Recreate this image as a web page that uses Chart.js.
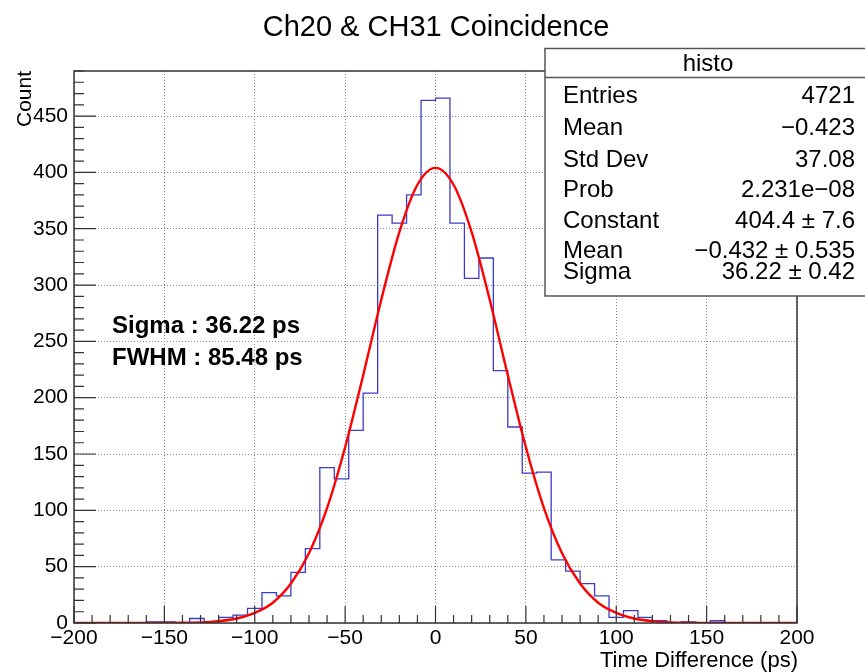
<!DOCTYPE html>
<html><head><meta charset="utf-8">
<script src="https://cdn.jsdelivr.net/npm/chart.js@4.4.0/dist/chart.umd.min.js"></script>
<style>html,body{margin:0;padding:0;background:#fff;overflow:hidden}canvas{display:block}</style>
</head><body>
<canvas id="c" width="865" height="672"></canvas>
<script>
// ---- data ----
const binLowEdges = [-200,-192,-184,-176,-168,-160,-152,-144,-136,-128,-120,-112,-104,-96,-88,-80,-72,-64,-56,-48,-40,-32,-24,-16,-8,
                     0,8,16,24,32,40,48,56,64,72,80,88,96,104,112,120,128,136,144,152,160,168,176,184,192];
const histUpperEdge = 200;
const counts = [0,0,0,0,0,1,1,0,4,1,5,7,13,27,24,45,66,138,128,171,204,362,355,380,464,
                466,355,306,324,224,174,133,134,56,46,35,24,5,11,5,2,0,1,0,2,0,0,0,0,0];
const fitX = [-200,-190,-180,-170,-160,-150,-140,-130,-120,-110,-100,-90,-80,-70,-60,-50,-40,-30,-20,-10,
              0,10,20,30,40,50,60,70,80,90,100,110,120,130,140,150,160,170,180,190,200];
const fitY = [0,0,0,0,0,0,0.2,0.6,1.7,4,9,18,35,62,102,156,220,287,347,389,
              404,389,347,287,220,156,102,62,35,18,9,4,1.7,0.6,0.2,0,0,0,0,0,0];
const xTickValues = [-200,-150,-100,-50,0,50,100,150,200];
const yTickValues = [0,50,100,150,200,250,300,350,400,450];
const xRange = [-200, 200];
const yRange = [0, 490];
const titleText = "Ch20 & CH31 Coincidence";
const xTitle = "Time Difference (ps)";
const yTitle = "Count";
const statsName = "histo";
const statsLabels = ["Entries","Mean","Std Dev","Prob","Constant","Mean","Sigma"];
const statsValues = ["4721","\u22120.423","37.08","2.231e\u221208","404.4 \u00b1 7.6","\u22120.432 \u00b1 0.535","36.22 \u00b1 0.42"];
const noteLines = ["Sigma : 36.22 ps","FWHM : 85.48 ps"];

// ---- build chart ----
const FONT = "'Liberation Sans', Arial, Helvetica, sans-serif";
Chart.defaults.font.family = FONT;
Chart.defaults.color = '#000';

const histData = binLowEdges.map((x, i) => ({x: x, y: counts[i]}));
histData.push({x: histUpperEdge, y: counts[counts.length - 1]});
const fitData = fitX.map((x, i) => ({x: x, y: fitY[i]}));

const fmt = v => (v < 0 ? '\u2212' + Math.abs(v) : String(v));

const decor = {
  id: 'decor',
  afterDatasetsDraw(chart) {
    const ctx = chart.ctx, a = chart.chartArea;
    const xs = chart.scales.x, ys = chart.scales.y;
    ctx.save();
    // frame
    ctx.strokeStyle = '#333';
    ctx.lineWidth = 1.5;
    ctx.strokeRect(a.left, a.top, a.right - a.left, a.bottom - a.top);
    // ticks (inside)
    ctx.lineWidth = 1.2;
    ctx.strokeStyle = '#333';
    ctx.beginPath();
    for (let v = xRange[0]; v <= xRange[1]; v += 10) {
      const p = xs.getPixelForValue(v);
      const len = (v % 50 === 0) ? 17 : 8;
      ctx.moveTo(p, a.bottom); ctx.lineTo(p, a.bottom - len);
    }
    for (let v = yRange[0]; v <= yRange[1]; v += 10) {
      const p = ys.getPixelForValue(v);
      const len = (v % 50 === 0) ? 22 : 10;
      ctx.moveTo(a.left, p); ctx.lineTo(a.left + len, p);
    }
    ctx.stroke();

    // stats box
    const bx = 545, by = 48.5, bw = 340, bh = 247.5;
    ctx.fillStyle = '#fff';
    ctx.fillRect(bx, by, bw, bh);
    ctx.strokeStyle = '#555';
    ctx.lineWidth = 1.5;
    ctx.strokeRect(bx, by, bw, bh);
    ctx.beginPath(); ctx.moveTo(bx, 77.5); ctx.lineTo(bx + bw, 77.5); ctx.stroke();
    ctx.fillStyle = '#000';
    ctx.font = '24px ' + FONT;
    ctx.textAlign = 'center'; ctx.textBaseline = 'alphabetic';
    ctx.fillText(statsName, 708, 71);
    const baselines = [103, 135, 167, 197, 228, 258, 279];
    statsLabels.forEach((l, i) => {
      ctx.textAlign = 'left'; ctx.fillText(l, 563, baselines[i]);
      ctx.textAlign = 'right'; ctx.fillText(statsValues[i], 855, baselines[i]);
    });

    // annotation
    ctx.font = 'bold 24px ' + FONT;
    ctx.textAlign = 'left';
    ctx.fillText(noteLines[0], 112, 333);
    ctx.fillText(noteLines[1], 112, 365);

    // title
    ctx.font = '29px ' + FONT;
    ctx.textAlign = 'center';
    ctx.fillText(titleText, 436, 36);
    // x title
    ctx.font = '22px ' + FONT;
    ctx.textAlign = 'right';
    ctx.fillText(xTitle, 798, 667);
    // y title
    ctx.save();
    ctx.translate(31, 71);
    ctx.rotate(-Math.PI / 2);
    ctx.font = '21px ' + FONT;
    ctx.textAlign = 'right';
    ctx.fillText(yTitle, 0, 0);
    ctx.restore();
    ctx.restore();
  }
};

new Chart(document.getElementById('c'), {
  type: 'line',
  data: {
    datasets: [
      {
        label: 'fit', data: fitData, order: 0,
        borderColor: '#ff0000', borderWidth: 2.4, pointRadius: 0,
        cubicInterpolationMode: 'monotone', fill: false
      },
      {
        label: 'histo', data: histData, order: 1,
        borderColor: '#3c3cc8', borderWidth: 1.3, pointRadius: 0,
        stepped: 'before', fill: false
      }
    ]
  },
  options: {
    responsive: false, animation: false, devicePixelRatio: 1,
    layout: {padding: {left: 0, top: 71, right: 68, bottom: 0}},
    plugins: {legend: {display: false}, tooltip: {enabled: false}, title: {display: false}},
    scales: {
      x: {
        type: 'linear', min: xRange[0], max: xRange[1],
        afterFit: s => { s.height = 49; },
        afterBuildTicks: s => { s.ticks = xTickValues.map(v => ({value: v})); },
        ticks: {padding: 3, autoSkip: false, maxRotation: 0, font: {size: 21}, color: '#000', callback: fmt},
        grid: {color: '#8a8a8a', lineWidth: 1, drawTicks: false},
        border: {display: false, dash: [1, 2]}
      },
      y: {
        type: 'linear', min: yRange[0], max: yRange[1],
        afterFit: s => { s.width = 74; },
        afterBuildTicks: s => { s.ticks = yTickValues.map(v => ({value: v})); },
        ticks: {padding: 6, autoSkip: false, font: {size: 21}, color: '#000', callback: fmt},
        grid: {color: '#8a8a8a', lineWidth: 1, drawTicks: false},
        border: {display: false, dash: [1, 2]}
      }
    }
  },
  plugins: [decor]
});
</script>
</body></html>
